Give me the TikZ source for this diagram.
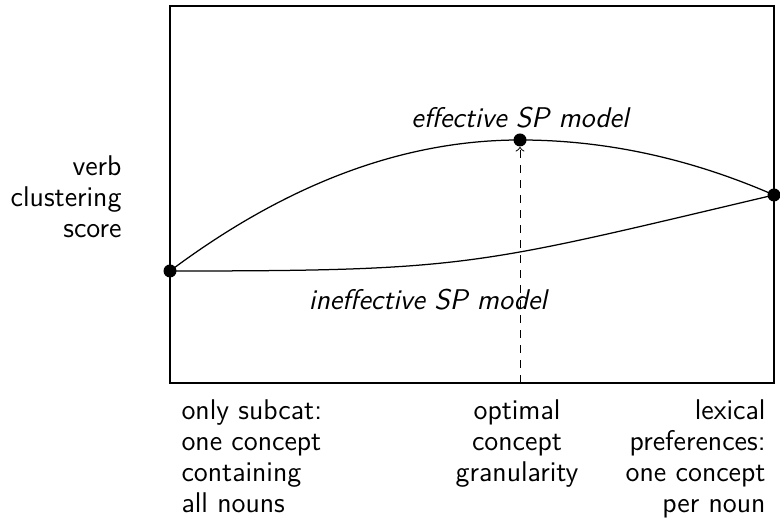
\documentclass[tikz,border=0pt]{standalone}
\begin{document}
\begin{tikzpicture}[x=0.4pt,y=-0.4pt,
  lbl/.style={font=\sffamily\fontsize{11.4pt}{12.4pt}\selectfont,inner sep=0pt},
  dot/.style={circle,fill=black,inner sep=0pt,minimum size=5.2pt},
  curve/.style={line width=0.5pt}]
\useasboundingbox (0,0) rectangle (780,530);
\draw[line width=0.45pt] (170,6) rectangle (774,383);
\node[dot] (L) at (170,271) {};
\node[dot] (T) at (520,140) {};
\node[dot] (R) at (774,195) {};
\coordinate (B) at (520,383);
\draw[curve] (L.center) .. controls (286.7,183.7) and (403.3,140) .. (T.center)
  .. controls (605,140) and (690,158.3) .. (R.center);
\draw[curve] (L.center) .. controls (470,271) and (475,265.5) .. (R.center);
\draw[dashed,->,line width=0.4pt] (B) -- (T.south);
\node[lbl,font=\sffamily\itshape\fontsize{11.4pt}{12.4pt}\selectfont] (eff) at (520,118) {effective SP model};
\node[lbl,font=\sffamily\itshape\fontsize{11.4pt}{12.4pt}\selectfont] (ineff) at (428,300) {ineffective SP model};
\node[lbl,align=right,anchor=east] (yl) at (122,197) {verb\\clustering\\score};
\node[lbl,align=left,anchor=north west] (c1) at (181,399) {only subcat:\\one concept\\containing\\all nouns};
\node[lbl,align=center,anchor=north] (c2) at (517,399) {optimal\\concept\\granularity};
\node[lbl,align=right,anchor=north east] (c3) at (766,399) {lexical\\preferences:\\one concept\\per noun};
\end{tikzpicture}
\end{document}
